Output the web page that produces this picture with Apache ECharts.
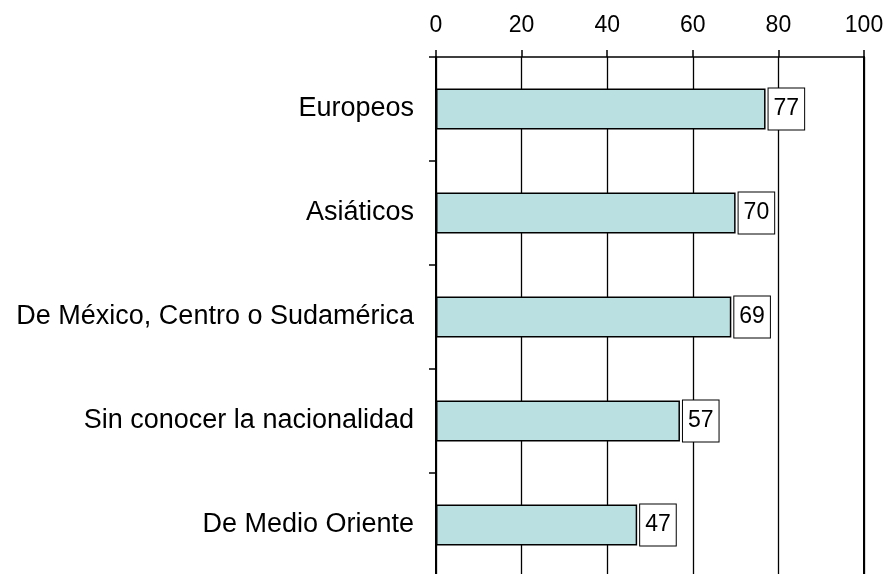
<!DOCTYPE html>
<html>
<head>
<meta charset="utf-8">
<script src="https://cdn.jsdelivr.net/npm/echarts@6/dist/echarts.min.js"></script>
<style>
  html, body { margin: 0; padding: 0; background: #fff; }
  #main { width: 886px; height: 574px; }
</style>
</head>
<body>
<div id="main"></div>
<script>
// categorias (de arriba a abajo)
var categories = [
  "Europeos",
  "Asiáticos",
  "De México, Centro o Sudamérica",
  "Sin conocer la nacionalidad",
  "De Medio Oriente"
];
// porcentajes
var values = [77, 70, 69, 57, 47];
var axisMin = 0;
var axisMax = 100;
var axisStep = 20;

var myChart = echarts.init(document.getElementById("main"));
var font = "Liberation Sans, Arial, sans-serif";

var option = {
  animation: false,
  backgroundColor: "#fff",
  grid: {
    left: 436,
    right: 22,
    top: 57,
    height: 520,
    outerBoundsMode: "none",
    containLabel: false
  },
  xAxis: {
    type: "value",
    position: "top",
    min: axisMin,
    max: axisMax,
    interval: axisStep,
    axisLine: { show: true, lineStyle: { color: "#000", width: 1.5 } },
    axisTick: { show: true, length: 7, lineStyle: { color: "#000", width: 1.5 } },
    axisLabel: { color: "#000", fontSize: 23, fontFamily: font, margin: 20 },
    splitLine: { show: true, lineStyle: { color: "#000", width: 1.3 } }
  },
  yAxis: [
    {
      type: "category",
      data: categories,
      inverse: true,
      axisLine: { show: true, lineStyle: { color: "#000", width: 2 } },
      axisTick: { show: true, length: 7, lineStyle: { color: "#000", width: 1.5 } },
      axisLabel: { color: "#000", fontSize: 27, fontFamily: font, margin: 22 },
      splitLine: { show: false }
    },
    {
      // borde derecho
      type: "category",
      position: "right",
      data: categories,
      inverse: true,
      axisLine: { show: true, lineStyle: { color: "#000", width: 2 } },
      axisTick: { show: false },
      axisLabel: { show: false }
    }
  ],
  series: [
    {
      type: "bar",
      data: values,
      barWidth: 41,
      itemStyle: {
        color: "#BAE0E2",
        borderColor: "#000",
        borderWidth: 1.5
      },
      label: {
        show: true,
        position: "right",
        distance: 3,
        color: "#000",
        fontSize: 23,
        fontFamily: font,
        lineHeight: 23,
        backgroundColor: "#fff",
        borderColor: "#000",
        borderWidth: 1,
        padding: [9, 5]
      }
    }
  ]
};
myChart.setOption(option);
</script>
</body>
</html>
